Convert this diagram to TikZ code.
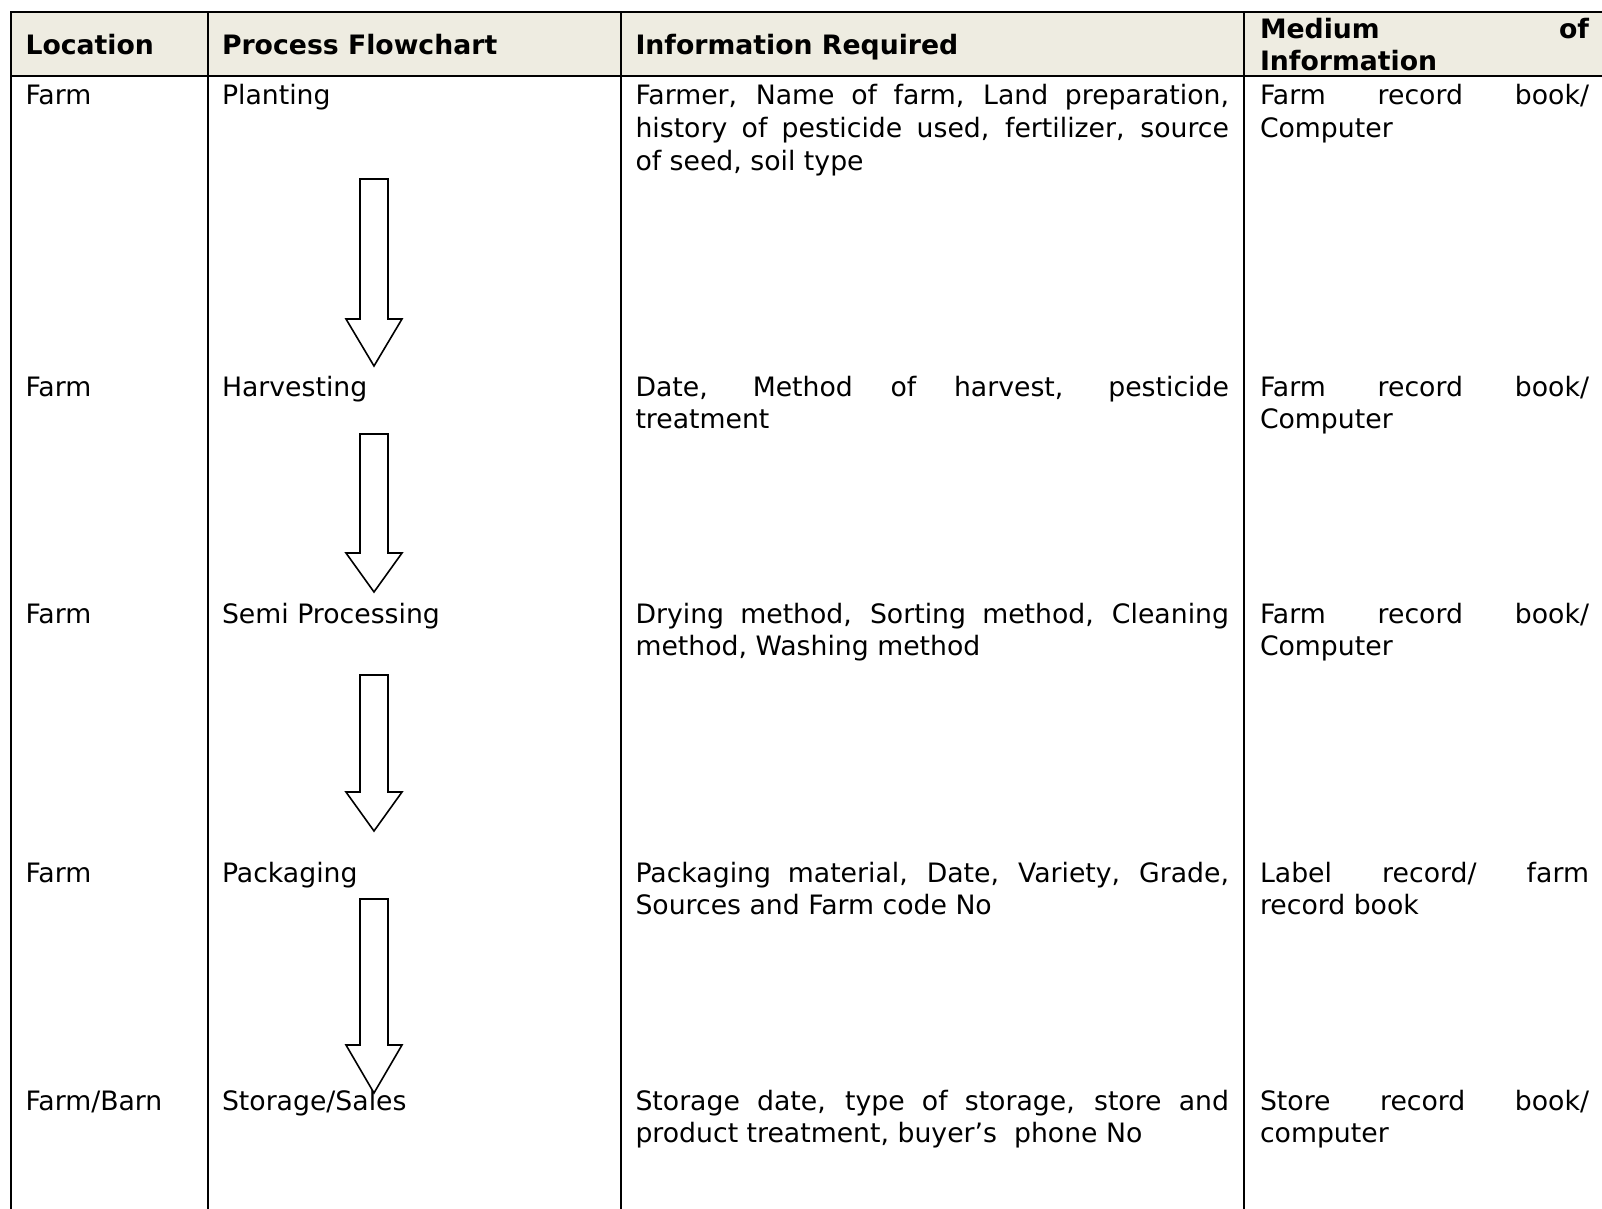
\documentclass[tikz,border=0pt]{standalone}
\usepackage{fontspec}
\setmainfont{DejaVu Sans}
\definecolor{hdrfill}{HTML}{EEECE1}
\newcommand\jl[1]{\makebox[\linewidth][s]{#1}\par}
\newcommand\lastln[1]{#1\par}
\newcommand\blockarrow[3]{%
  \draw[arrowline] (360,#1) -- (388,#1) -- (388,#2) -- (402,#2) -- (374,#3) -- (346,#2) -- (360,#2) -- cycle;}
\begin{document}
\begin{tikzpicture}[x=0.5pt,y=-0.5pt,
  grid/.style={line width=1.4pt},
  arrowline/.style={draw=black, fill=white, line width=0.8pt, line join=miter},
  cell/.style={anchor=base west, inner sep=0pt, outer sep=0pt, font=\fontsize{13.35}{16.35}\selectfont},
  headcell/.style={cell, font=\fontsize{13.35}{16.35}\selectfont\bfseries}]
\useasboundingbox (0,0) rectangle (1602,1209);
% header background and grid
\fill[hdrfill] (11,12) rectangle (1602,76);
\draw[grid] (1602,12) -- (11,12) -- (11,1209);
\draw[grid] (11,76) -- (1602,76);
\draw[grid] (208,12) -- (208,1209);
\draw[grid] (621,12) -- (621,1209);
\draw[grid] (1244,12) -- (1244,1209);
% header
\node[headcell] (hloc) at (25.5,55) {Location};
\node[headcell] (hproc) at (222,55) {Process Flowchart};
\node[headcell] (hinfo) at (635.5,55) {Information Required};
\node[headcell] (hmed) at (1260,38.3) {\parbox[t]{164.5pt}{\jl{Medium of}\lastln{Information}}};
% column 1
\node[cell] (loc1) at (25.5,105) {Farm};
\node[cell] (loc2) at (25.5,396) {Farm};
\node[cell] (loc3) at (25.5,623) {Farm};
\node[cell] (loc4) at (25.5,882) {Farm};
\node[cell] (loc5) at (25.5,1110) {Farm/Barn};
% column 2
\node[cell] (proc1) at (222,105) {Planting};
\node[cell] (proc2) at (222,396) {Harvesting};
\node[cell] (proc3) at (222,623) {Semi Processing};
\node[cell] (proc4) at (222,882) {Packaging};
\node[cell] (proc5) at (222,1110) {Storage/Sales};
% column 3
\node[cell] (info1) at (635.5,105) {\parbox[t]{296.75pt}{%
  \jl{Farmer, Name of farm, Land preparation,}%
  \jl{history of pesticide used, fertilizer, source}%
  \lastln{of seed, soil type}}};
\node[cell] (info2) at (635.5,396) {\parbox[t]{296.75pt}{%
  \jl{Date, Method of harvest, pesticide}%
  \lastln{treatment}}};
\node[cell] (info3) at (635.5,623) {\parbox[t]{296.75pt}{%
  \jl{Drying method, Sorting method, Cleaning}%
  \lastln{method, Washing method}}};
\node[cell] (info4) at (635.5,882) {\parbox[t]{296.75pt}{%
  \jl{Packaging material, Date, Variety, Grade,}%
  \lastln{Sources and Farm code No}}};
\node[cell] (info5) at (635.5,1110) {\parbox[t]{296.75pt}{%
  \jl{Storage date, type of storage, store and}%
  \lastln{product treatment, buyer’s\ \ phone No}}};
% column 4
\node[cell] (med1) at (1260,105) {\parbox[t]{164.5pt}{\jl{Farm record book/}\lastln{Computer}}};
\node[cell] (med2) at (1260,396) {\parbox[t]{164.5pt}{\jl{Farm record book/}\lastln{Computer}}};
\node[cell] (med3) at (1260,623) {\parbox[t]{164.5pt}{\jl{Farm record book/}\lastln{Computer}}};
\node[cell] (med4) at (1260,882) {\parbox[t]{164.5pt}{\jl{Label record/ farm}\lastln{record book}}};
\node[cell] (med5) at (1260,1110) {\parbox[t]{164.5pt}{\jl{Store record book/}\lastln{computer}}};
% block arrows
\blockarrow{179}{319}{366}
\blockarrow{434}{553}{592}
\blockarrow{675}{792}{831}
\blockarrow{899}{1045}{1093}
\end{tikzpicture}
\end{document}
